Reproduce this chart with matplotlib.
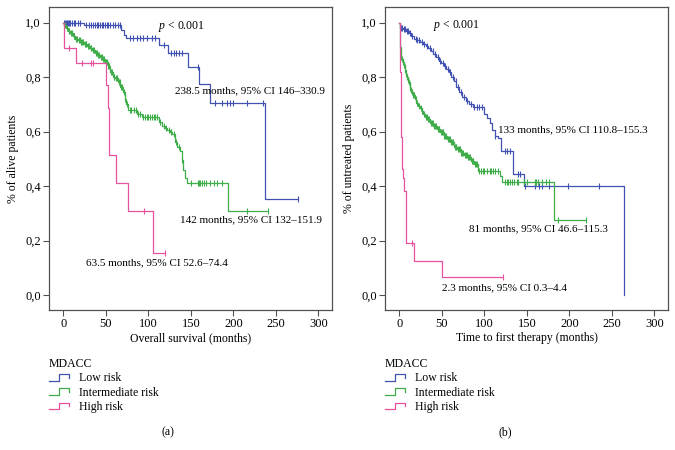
import numpy as np
import matplotlib
matplotlib.use("Agg")
import matplotlib.pyplot as plt
from matplotlib.lines import Line2D
from matplotlib.legend_handler import HandlerBase
from matplotlib.ticker import FuncFormatter

plt.rcParams['font.family'] = ['Liberation Serif', 'DejaVu Serif']
plt.rcParams['font.size'] = 8
plt.rcParams['mathtext.fontset'] = 'custom'
plt.rcParams['mathtext.it'] = 'Liberation Serif:italic'
plt.rcParams['mathtext.rm'] = 'Liberation Serif'

# ---------------- data ----------------
groups = ["Low risk", "Intermediate risk", "High risk"]
colors = ["#4152b3", "#3fae4a", "#e6529e"]

# (a) overall survival
os_low_t = [24, 68, 71, 74, 112, 123, 146, 160, 172, 237]
os_low_s = [0.99, 0.972, 0.955, 0.942, 0.918, 0.889, 0.837, 0.776, 0.703, 0.352]
os_low_c = [1, 2, 3, 4, 5, 6, 8, 10, 12, 14, 17, 20, 27, 30, 33, 35, 37, 39, 41, 43, 45,
            47, 49, 51, 53, 55, 58, 61, 64, 66, 78, 82, 86, 90, 94, 98, 104, 108, 118,
            127, 130, 133, 136, 140, 158, 178, 186, 192, 196, 200, 216, 235, 276]

os_int_t = [1, 3, 5, 8, 11, 14, 17, 20, 24, 28, 31, 34, 37, 40, 43, 46, 49, 52, 55, 58,
            61, 64, 67, 70, 72, 74, 76, 86, 92, 112, 116, 119, 122, 125, 128, 131, 134,
            137, 139, 141, 143, 145, 194]
os_int_s = [0.99, 0.98, 0.97, 0.96, 0.95, 0.94, 0.935, 0.928, 0.92, 0.913, 0.905, 0.898,
            0.89, 0.882, 0.875, 0.866, 0.856, 0.84, 0.82, 0.80, 0.795, 0.782, 0.765,
            0.745, 0.72, 0.70, 0.678, 0.665, 0.652, 0.635, 0.62, 0.612, 0.605, 0.598,
            0.59, 0.56, 0.545, 0.53, 0.495, 0.46, 0.43, 0.41, 0.309]
os_int_c = [2, 4, 6, 7, 9, 10, 12, 13, 15, 16, 18, 19, 21, 22, 23, 25, 26, 27, 29, 30, 32,
            33, 35, 36, 38, 39, 41, 42, 44, 45, 47, 48, 50, 51, 53, 54, 56, 57, 59, 60,
            62, 63, 65, 66, 68, 69, 71, 73, 75, 78, 80, 83, 85, 88, 90, 94, 96, 98, 100,
            102, 104, 106, 108, 110, 114, 118, 121, 124, 127, 130, 133, 136, 140, 150,
            158, 160, 161, 163, 165, 168, 172, 177, 181, 187, 216, 241]

os_high_t = [1, 15, 50, 52, 54, 62, 76, 105]
os_high_s = [0.905, 0.853, 0.77, 0.685, 0.513, 0.41, 0.308, 0.155]
os_high_c = [6, 22, 33, 35, 95, 120]

# (b) time to first therapy
ttft_low_t = [1, 4, 8, 11, 14, 17, 20, 24, 28, 31, 34, 37, 40, 43, 46, 49, 52, 55, 58, 61,
              64, 67, 70, 74, 78, 82, 86, 100, 103, 106, 109, 112, 116, 120, 134, 146, 264]
ttft_low_s = [0.98, 0.975, 0.97, 0.963, 0.95, 0.94, 0.935, 0.93, 0.922, 0.914, 0.905,
              0.895, 0.884, 0.872, 0.86, 0.85, 0.841, 0.83, 0.817, 0.80, 0.786, 0.765,
              0.745, 0.725, 0.712, 0.70, 0.69, 0.664, 0.65, 0.63, 0.605, 0.584, 0.578,
              0.529, 0.444, 0.401, 0.0]
ttft_low_c = [2, 3, 5, 7, 9, 10, 13, 15, 19, 21, 23, 26, 29, 33, 36, 39, 42, 45, 48, 51,
              54, 57, 60, 63, 66, 69, 72, 76, 80, 84, 88, 91, 94, 97, 113, 124, 127, 130,
              139, 142, 148, 160, 164, 168, 176, 198, 235]

ttft_int_t = [0.3, 0.6, 1, 1.5, 2, 3, 4, 5, 6, 7, 8, 9, 10, 11, 12, 13, 14, 15, 16, 18, 20,
              22, 24, 26, 28, 30, 33, 36, 40, 44, 48, 52, 56, 60, 64, 68, 72, 76, 80, 84,
              88, 92, 118, 121, 182]
ttft_int_s = [0.97, 0.94, 0.91, 0.89, 0.875, 0.865, 0.855, 0.845, 0.835, 0.825, 0.81, 0.80,
              0.79, 0.78, 0.77, 0.76, 0.752, 0.745, 0.735, 0.72, 0.705, 0.695, 0.685,
              0.675, 0.665, 0.655, 0.645, 0.632, 0.62, 0.608, 0.597, 0.585, 0.572, 0.56,
              0.545, 0.535, 0.523, 0.515, 0.505, 0.493, 0.48, 0.456, 0.437, 0.415, 0.276]
ttft_int_c = [1, 2, 3, 4, 5, 6, 7, 8, 9, 10, 11, 12, 13, 14, 15, 16, 17, 19, 21, 23, 25, 27,
              29, 31, 32, 34, 35, 37, 38, 39, 41, 42, 43, 45, 46, 47, 49, 50, 51, 53, 54,
              55, 57, 58, 59, 61, 62, 63, 65, 66, 67, 69, 70, 71, 73, 74, 75, 77, 78, 79,
              81, 82, 83, 85, 86, 87, 89, 90, 91, 94, 96, 98, 100, 103, 106, 108, 110,
              113, 116, 124, 126, 128, 130, 132, 135, 138, 140, 146, 147, 150, 160, 161,
              163, 168, 172, 176, 186, 219]

ttft_high_t = [0.3, 0.6, 1, 1.4, 1.8, 2.2, 2.6, 3, 4, 5, 7.5, 16.6, 50]
ttft_high_s = [0.95, 0.9, 0.82, 0.74, 0.66, 0.58, 0.5, 0.462, 0.428, 0.38, 0.19, 0.126, 0.065]
ttft_high_c = [14.6, 122]

xticks = [0, 50, 100, 150, 200, 250, 300]
yticks = [0.0, 0.2, 0.4, 0.6, 0.8, 1.0]

panels = [
    dict(curves=[(os_low_t, os_low_s, os_low_c), (os_int_t, os_int_s, os_int_c),
                 (os_high_t, os_high_s, os_high_c)],
         xlabel="Overall survival (months)", ylabel="% of alive patients",
         p_pos=(111, 0.986),
         notes=[("238.5 months, 95% CI 146\u2013330.9", 131, 0.749),
                ("142 months, 95% CI 132\u2013151.9", 137, 0.275),
                ("63.5 months, 95% CI 52.6\u201374.4", 26, 0.12)],
         tag="(a)"),
    dict(curves=[(ttft_low_t, ttft_low_s, ttft_low_c), (ttft_int_t, ttft_int_s, ttft_int_c),
                 (ttft_high_t, ttft_high_s, ttft_high_c)],
         xlabel="Time to first therapy (months)", ylabel="% of untreated patients",
         p_pos=(39, 0.99),
         notes=[("133 months, 95% CI 110.8\u2013155.3", 116, 0.606),
                ("81 months, 95% CI 46.6\u2013115.3", 81.5, 0.242),
                ("2.3 months, 95% CI 0.3\u20134.4", 50, 0.025)],
         tag="(b)"),
]


class StepHandler(HandlerBase):
    def create_artists(self, legend, orig_handle, xdescent, ydescent, width, height,
                       fontsize, trans):
        x0, y0 = -xdescent, -ydescent
        xs = [x0, x0 + 0.5 * width, x0 + 0.5 * width, x0 + width, x0 + width]
        ys = [y0 + 0.1 * height, y0 + 0.1 * height, y0 + 0.9 * height,
              y0 + 0.9 * height, y0 + 0.45 * height]
        ln = Line2D(xs, ys, color=orig_handle.get_color(), lw=0.9)
        ln.set_transform(trans)
        return [ln]


fig = plt.figure(figsize=(6.75, 4.5), dpi=100)
W, H = 675.0, 450.0
ax_rects = [[49 / W, 1 - 310 / H, (332 - 49) / W, 303 / H],
            [385 / W, 1 - 310 / H, (668 - 385) / W, 303 / H]]
tag_x = [168 / W, 505 / W]
frame_c = "#505050"

for i, (pan, rect) in enumerate(zip(panels, ax_rects)):
    ax = fig.add_axes(rect)
    handles = []
    for (t, s, c), col, name in zip(pan["curves"], colors, groups):
        t = np.asarray(t, float)
        s = np.asarray(s, float)
        c = np.asarray(c, float)
        end = max(t.max(), c.max())
        xs = np.concatenate([[0.0], t, [end]])
        ys = np.concatenate([[1.0], s, [s[-1]]])
        ax.step(xs, ys, where="post", color=col, lw=0.9)
        full_s = np.concatenate([[1.0], s])
        cy = full_s[np.searchsorted(t, c, side="right")]
        ax.plot(c, cy, linestyle="none", marker="|", ms=5, mew=0.8, color=col)
        handles.append(Line2D([], [], color=col, label=name))

    ax.set_xlim(-17, 316)
    ax.set_ylim(-0.055, 1.057)
    ax.set_xticks(xticks)
    ax.set_yticks(yticks)
    ax.yaxis.set_major_formatter(FuncFormatter(lambda v, p: f"{v:.1f}".replace(".", ",")))
    ax.tick_params(direction="out", length=4, width=0.8, color=frame_c, labelsize=9, pad=2)
    for sp in ax.spines.values():
        sp.set_color(frame_c)
        sp.set_linewidth(0.9)
    ax.set_xlabel(pan["xlabel"], fontsize=8.5, labelpad=1.5)
    ax.set_ylabel(pan["ylabel"], fontsize=8.5, labelpad=4)

    px, py = pan["p_pos"]
    ax.text(px, py, r"$p$ < 0.001", fontsize=8.5, va="center", ha="left")
    for txt, tx, ty in pan["notes"]:
        ax.text(tx, ty, txt, fontsize=8, va="center", ha="left")

    leg = ax.legend(handles=handles, title="MDACC", loc="upper left",
                    bbox_to_anchor=(rect[0], 1 - 358 / H), bbox_transform=fig.transFigure,
                    frameon=False, alignment="left", borderpad=0, borderaxespad=0,
                    handlelength=1.7, handleheight=0.7, handletextpad=0.8,
                    labelspacing=0.2, fontsize=8.5, title_fontsize=8.5,
                    handler_map={Line2D: StepHandler()})
    fig.text(tag_x[i], 1 - 432 / H, pan["tag"], ha="center", va="center", fontsize=8.5)

fig.savefig("out.png", dpi=100)
